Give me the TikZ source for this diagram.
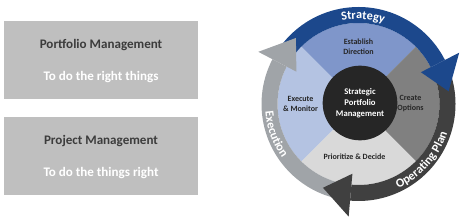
\documentclass[tikz,border=0pt]{standalone}
\usepackage{fontspec}
\setmainfont{Carlito}
\usetikzlibrary{positioning, decorations.text}
\definecolor{cBox}{RGB}{191,191,191}
\definecolor{cTitle}{RGB}{60,60,60}
\definecolor{cStrat}{RGB}{28,72,140}
\definecolor{cOper}{RGB}{64,64,64}
\definecolor{cExec}{RGB}{160,164,168}
\definecolor{cDir}{RGB}{127,150,202}
\definecolor{cOpt}{RGB}{128,128,128}
\definecolor{cDec}{RGB}{217,217,217}
\definecolor{cMon}{RGB}{180,195,226}
\definecolor{cHub}{RGB}{38,38,38}
\tikzset{
	pmbox/.style  ={rectangle, minimum width=145.5pt, minimum height=58.5pt, fill=cBox, inner sep=0pt},
	pmtitle/.style={font=\bfseries\fontsize{9.8}{11}\selectfont, text=cTitle},
	pmsub/.style  ={font=\bfseries\fontsize{9.8}{11}\selectfont, text=white},
	qlabel/.style ={font=\bfseries\fontsize{6}{7.5}\selectfont, text=black!85, align=center},
	hub/.style    ={circle, minimum size=56pt, inner sep=0pt, fill=cHub, text=white, align=center, font=\bfseries\fontsize{6.5}{8.2}\selectfont},
	% text on the ring
	ringtext/.style={decorate, decoration={text along path, text align=center, text color=white, text={|\bfseries\fontsize{9.2}{9.2}\selectfont|#1}}},
}

\begin{document}
\begin{tikzpicture}[x=0.75pt, y=0.75pt]
	\useasboundingbox (0,0) rectangle (474,218);
	\foreach \nm/\yc/\ttl/\sub in {pf/158/Portfolio Management/To do the right things, pj/62/Project Management/To do the things right} {
		\node[pmbox] (\nm box) at (101,\yc) {};
		\node[pmtitle] (\nm title) at (101,\yc+15) {\ttl};
		\node[pmsub] (\nm sub) at (101,\yc-17) {\sub};
	}
	\begin{scope}[shift={(358.5,114)}]
		\foreach \clr/\sa/\ea in {cDir/135/45, cOpt/45/-45, cDec/-45/-135, cMon/-135/-225}
			\fill[\clr] (0,0) -- (\sa:81) arc[start angle=\sa, end angle=\ea, radius=81] -- cycle;
		% bands first, heads on top
		\foreach \clr/\sa/\ba in {cStrat/143/27, cOper/17/-95, cExec/-103/-207.5}
			\fill[\clr] (\sa:97) arc[start angle=\sa, end angle=\ba, radius=97] -- (\ba:81) arc[start angle=\ba, end angle=\sa, radius=81] -- cycle;
		\foreach \clr/\ba/\tp in {cStrat/27/8, cOper/-95/-113, cExec/-207.5/-226.5}
			\fill[\clr] (\ba:70) -- (\ba:113) -- (\tp:91) -- cycle;
		\path[ringtext=Strategy] (115:85) arc[start angle=115, end angle=59, radius=85];
		\path[ringtext=Operating Plan] (-80:93.5) arc[start angle=-80, end angle=-3, radius=93.5];
		\path[ringtext=Execution] (170:93.5) arc[start angle=170, end angle=230, radius=93.5];
		\node[hub] (hub) at (1.5,1) {Strategic\\Portfolio\\Management};
		\node[qlabel] (direction) at (0,57) {Establish\\Direction};
		\node[qlabel] (monitor) at (-58,0.5) {Execute\\\& Monitor};
		\node[qlabel] (options) at (52,0) {Create\\Options};
		\node[qlabel] (decide) at (-4,-53) {Prioritize \& Decide};
	\end{scope}
\end{tikzpicture}
\end{document}
